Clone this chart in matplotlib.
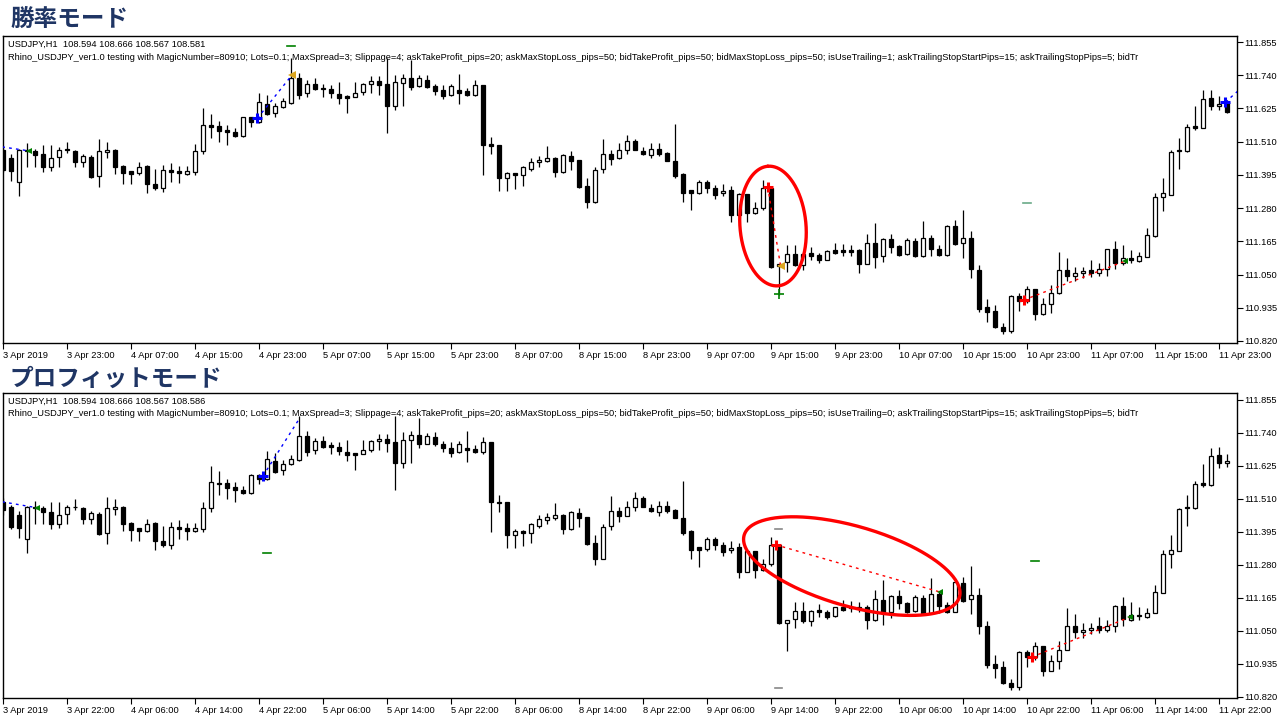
import numpy as np
import matplotlib
matplotlib.use("Agg")
import matplotlib.pyplot as plt

plt.rcParams['font.family'] = ['Liberation Sans', 'DejaVu Sans']

# ---------------- data (USDJPY H1) ----------------
opens = [111.483, 111.455, 111.371, 111.478, 111.477, 111.466, 111.423, 111.458, 111.483, 111.477,
         111.440, 111.458, 111.392, 111.476, 111.483, 111.425, 111.408, 111.400, 111.425, 111.365,
         111.348, 111.411, 111.408, 111.397, 111.406, 111.477, 111.567, 111.564, 111.550, 111.542,
         111.529, 111.594, 111.579, 111.642, 111.611, 111.631, 111.644, 111.729, 111.680, 111.711,
         111.697, 111.691, 111.674, 111.669, 111.665, 111.682, 111.711, 111.719, 111.709, 111.634,
         111.714, 111.732, 111.703, 111.725, 111.702, 111.688, 111.673, 111.688, 111.685, 111.673,
         111.708, 111.501, 111.498, 111.386, 111.400, 111.393, 111.417, 111.438, 111.444, 111.455,
         111.406, 111.461, 111.446, 111.356, 111.302, 111.414, 111.469, 111.452, 111.483, 111.512,
         111.478, 111.463, 111.486, 111.471, 111.444, 111.398, 111.342, 111.334, 111.372, 111.351,
         111.331, 111.342, 111.256, 111.328, 111.264, 111.282, 111.348, 111.079, 111.092, 111.120,
         111.083, 111.123, 111.117, 111.102, 111.135, 111.135, 111.135, 111.135, 111.088, 111.158,
         111.115, 111.173, 111.148, 111.120, 111.166, 111.114, 111.178, 111.140, 111.117, 111.218,
         111.160, 111.175, 111.066, 110.936, 110.924, 110.870, 110.856, 110.977, 110.959, 110.999,
         110.912, 110.947, 110.985, 111.066, 111.046, 111.054, 111.066, 111.054, 111.069, 111.137,
         111.089, 111.107, 111.098, 111.112, 111.184, 111.317, 111.327, 111.483, 111.478, 111.564,
         111.558, 111.663, 111.634, 111.648]
highs = [111.490, 111.469, 111.486, 111.504, 111.486, 111.498, 111.498, 111.490, 111.510, 111.483,
         111.469, 111.463, 111.518, 111.510, 111.485, 111.429, 111.408, 111.440, 111.429, 111.417,
         111.429, 111.437, 111.425, 111.425, 111.501, 111.625, 111.607, 111.581, 111.569, 111.556,
         111.596, 111.596, 111.677, 111.671, 111.644, 111.663, 111.799, 111.748, 111.723, 111.729,
         111.709, 111.708, 111.715, 111.671, 111.715, 111.714, 111.737, 111.737, 111.799, 111.742,
         111.746, 111.792, 111.740, 111.742, 111.711, 111.708, 111.711, 111.746, 111.697, 111.725,
         111.708, 111.525, 111.500, 111.406, 111.402, 111.425, 111.455, 111.461, 111.495, 111.458,
         111.467, 111.478, 111.448, 111.383, 111.421, 111.521, 111.481, 111.504, 111.533, 111.521,
         111.492, 111.504, 111.504, 111.475, 111.573, 111.402, 111.342, 111.377, 111.377, 111.359,
         111.363, 111.356, 111.333, 111.328, 111.302, 111.377, 111.354, 111.088, 111.152, 111.152,
         111.123, 111.144, 111.123, 111.135, 111.158, 111.155, 111.152, 111.140, 111.192, 111.227,
         111.175, 111.192, 111.152, 111.175, 111.175, 111.235, 111.187, 111.152, 111.221, 111.238,
         111.275, 111.200, 111.083, 110.965, 110.944, 110.881, 110.979, 110.985, 111.010, 110.999,
         110.968, 111.014, 111.129, 111.108, 111.077, 111.077, 111.100, 111.089, 111.140, 111.167,
         111.152, 111.135, 111.129, 111.210, 111.331, 111.386, 111.480, 111.523, 111.573, 111.633,
         111.688, 111.690, 111.667, 111.656]
lows = [111.406, 111.375, 111.323, 111.423, 111.423, 111.406, 111.409, 111.423, 111.471, 111.423,
        111.423, 111.386, 111.352, 111.455, 111.397, 111.365, 111.362, 111.394, 111.331, 111.342,
        111.337, 111.371, 111.368, 111.394, 111.394, 111.466, 111.523, 111.510, 111.498, 111.527,
        111.527, 111.561, 111.575, 111.602, 111.594, 111.628, 111.642, 111.659, 111.665, 111.688,
        111.665, 111.663, 111.642, 111.610, 111.665, 111.673, 111.679, 111.673, 111.541, 111.619,
        111.634, 111.688, 111.700, 111.696, 111.673, 111.657, 111.669, 111.639, 111.669, 111.667,
        111.394, 111.466, 111.340, 111.340, 111.345, 111.357, 111.408, 111.423, 111.438, 111.388,
        111.403, 111.411, 111.348, 111.279, 111.299, 111.402, 111.429, 111.450, 111.469, 111.481,
        111.463, 111.452, 111.460, 111.444, 111.386, 111.302, 111.273, 111.328, 111.333, 111.311,
        111.323, 111.233, 111.256, 111.233, 111.259, 111.275, 111.074, 110.979, 111.060, 111.079,
        111.066, 111.100, 111.091, 111.100, 111.121, 111.115, 111.115, 111.056, 111.086, 111.071,
        111.094, 111.126, 111.114, 111.117, 111.112, 111.112, 111.114, 111.114, 111.115, 111.152,
        111.108, 111.039, 110.921, 110.887, 110.864, 110.843, 110.846, 110.925, 110.950, 110.893,
        110.910, 110.916, 110.982, 111.027, 111.027, 111.039, 111.042, 111.046, 111.046, 111.068,
        111.083, 111.089, 111.094, 111.112, 111.181, 111.271, 111.327, 111.417, 111.475, 111.550,
        111.556, 111.619, 111.621, 111.608]
closes = [111.411, 111.409, 111.481, 111.483, 111.465, 111.423, 111.455, 111.481, 111.482, 111.440,
          111.460, 111.388, 111.477, 111.483, 111.423, 111.403, 111.399, 111.421, 111.362, 111.350,
          111.411, 111.406, 111.400, 111.408, 111.477, 111.569, 111.561, 111.548, 111.542, 111.530,
          111.594, 111.579, 111.648, 111.605, 111.633, 111.650, 111.729, 111.673, 111.711, 111.692,
          111.691, 111.677, 111.663, 111.663, 111.680, 111.711, 111.719, 111.706, 111.634, 111.715,
          111.732, 111.700, 111.729, 111.700, 111.686, 111.669, 111.702, 111.680, 111.673, 111.708,
          111.500, 111.496, 111.386, 111.400, 111.393, 111.421, 111.439, 111.446, 111.455, 111.406,
          111.463, 111.444, 111.354, 111.302, 111.411, 111.469, 111.450, 111.481, 111.512, 111.483,
          111.469, 111.486, 111.469, 111.444, 111.392, 111.333, 111.331, 111.371, 111.350, 111.326,
          111.339, 111.256, 111.328, 111.264, 111.282, 111.348, 111.077, 111.088, 111.120, 111.083,
          111.120, 111.115, 111.100, 111.132, 111.123, 111.129, 111.129, 111.088, 111.160, 111.112,
          111.173, 111.146, 111.117, 111.169, 111.114, 111.178, 111.138, 111.117, 111.219, 111.155,
          111.175, 111.068, 110.931, 110.921, 110.870, 110.856, 110.977, 110.959, 110.999, 110.912,
          110.947, 110.985, 111.066, 111.046, 111.054, 111.062, 111.054, 111.069, 111.137, 111.091,
          111.106, 111.102, 111.114, 111.187, 111.317, 111.331, 111.475, 111.478, 111.561, 111.558,
          111.659, 111.634, 111.642, 111.613]

# the lower chart starts one hour earlier: one extra bar in front
pre_bar = [111.500, 111.512, 111.455, 111.470]   # O, H, L, C

top_xlabels = ['3 Apr 2019', '3 Apr 23:00', '4 Apr 07:00', '4 Apr 15:00', '4 Apr 23:00',
               '5 Apr 07:00', '5 Apr 15:00', '5 Apr 23:00', '8 Apr 07:00', '8 Apr 15:00',
               '8 Apr 23:00', '9 Apr 07:00', '9 Apr 15:00', '9 Apr 23:00', '10 Apr 07:00',
               '10 Apr 15:00', '10 Apr 23:00', '11 Apr 07:00', '11 Apr 15:00', '11 Apr 23:00']
bot_xlabels = ['3 Apr 2019', '3 Apr 22:00', '4 Apr 06:00', '4 Apr 14:00', '4 Apr 22:00',
               '5 Apr 06:00', '5 Apr 14:00', '5 Apr 22:00', '8 Apr 06:00', '8 Apr 14:00',
               '8 Apr 22:00', '9 Apr 06:00', '9 Apr 14:00', '9 Apr 22:00', '10 Apr 06:00',
               '10 Apr 14:00', '10 Apr 22:00', '11 Apr 06:00', '11 Apr 14:00', '11 Apr 22:00']
price_ticks = [111.855, 111.740, 111.625, 111.510, 111.395, 111.280, 111.165, 111.050, 110.935, 110.820]

# trades: (bar index, price)
top_trades = [
    dict(entry=(-0.1, 111.492), exit=(3.3, 111.478), color='#0000ff', entry_mark=False, exit_mark='green'),
    dict(entry=(31.8, 111.591), exit=(36.1, 111.740), color='#0000ff', entry_mark=True, exit_mark='gold'),
    dict(entry=(95.6, 111.353), exit=(97.2, 111.079), color='#ff0000', entry_mark=True, exit_mark='gold'),
    dict(entry=(127.6, 110.962), exit=(140.3, 111.097), color='#ff0000', entry_mark=True, exit_mark='green'),
    dict(entry=(152.8, 111.647), exit=(154.3, 111.684), color='#0000ff', entry_mark=True, exit_mark=None),
]
top_dashes = [(36.0, 111.840, '#008000'), (128.0, 111.297, '#6aaa88')]
top_plus_green = [(97.0, 110.982)]

bot_trades = [
    dict(entry=(-0.1, 111.500), exit=(4.3, 111.479), color='#0000ff', entry_mark=False, exit_mark='green'),
    dict(entry=(32.5, 111.590), exit=(37.1, 111.792), color='#0000ff', entry_mark=True, exit_mark=None),
    dict(entry=(96.6, 111.350), exit=(117.1, 111.186), color='#ff0000', entry_mark=True, exit_mark='green'),
    dict(entry=(128.6, 110.959), exit=(140.9, 111.099), color='#ff0000', entry_mark=True, exit_mark='green'),
]
bot_dashes = [(33.0, 111.322, '#008000'), (96.9, 111.405, '#888888'), (96.9, 110.851, '#888888'),
              (129.0, 111.294, '#008000')]
bot_plus_green = []

# ---------------- drawing ----------------
fig = plt.figure(figsize=(12.8, 7.2), dpi=100)
fig.patch.set_facecolor('white')

W, H = 1280.0, 720.0
SMALL = 6.7


def px_axes(x0, y0, x1, y1):
    return fig.add_axes([x0 / W, 1 - y1 / H, (x1 - x0) / W, (y1 - y0) / H])


def draw_candles(ax, o, h, l, c):
    o, h, l, c = map(np.asarray, (o, h, l, c))
    x = np.arange(len(o))
    ax.vlines(x, l, h, color='black', lw=0.9, zorder=2)
    up = c >= o
    bottoms = np.minimum(o, c)
    heights = np.maximum(np.abs(c - o), 0.0015)
    ax.bar(x[up], heights[up], bottom=bottoms[up], width=0.62, facecolor='white',
           edgecolor='black', lw=0.9, zorder=3)
    ax.bar(x[~up], heights[~up], bottom=bottoms[~up], width=0.62, facecolor='black',
           edgecolor='black', lw=0.9, zorder=3)


def style_axes(ax, xlabels, ylim):
    ax.set_xlim(-0.06, 154.25)
    ax.set_ylim(*ylim)
    for s in ax.spines.values():
        s.set_color('black')
        s.set_linewidth(1.0)
    ax.yaxis.tick_right()
    ax.set_yticks(price_ticks)
    ax.set_yticklabels(['%.3f' % v for v in price_ticks], fontsize=SMALL)
    ax.set_xticks(np.arange(len(xlabels)) * 8)
    ax.set_xticklabels(xlabels, fontsize=SMALL, ha='left')
    ax.tick_params(axis='both', direction='out', length=4, width=0.8, color='black')
    ax.tick_params(axis='x', pad=1.5)
    ax.tick_params(axis='y', pad=1.5)


def draw_trades(ax, trades, dashes, plus_green):
    for t in trades:
        (x0, y0), (x1, y1) = t['entry'], t['exit']
        ax.plot([x0, x1], [y0, y1], color=t['color'], lw=1.0, ls=(0, (2, 3)), zorder=5)
        if t['entry_mark']:
            ax.plot([x0], [y0], marker='+', color=t['color'], ms=7, mew=2.2, zorder=6)
        if t['exit_mark'] == 'green':
            ax.plot([x1], [y1], marker='<', color='#008000', ms=5, mew=0, zorder=6)
        elif t['exit_mark'] == 'gold':
            ax.plot([x1], [y1], marker='<', color='#daa520', ms=6, mew=0, zorder=6)
    for (x, y, col) in dashes:
        ax.plot([x - 0.45, x + 0.45], [y, y], color=col, lw=1.2, zorder=5)
    for (x, y) in plus_green:
        ax.plot([x], [y], marker='+', color='#008000', ms=7, mew=1.2, zorder=6)


def pixel_ellipse(ax, cx, cy, a_px, b_px, angle_deg):
    c = ax.transData.transform((cx, cy))
    t = np.linspace(0, 2 * np.pi, 300)
    th = np.deg2rad(angle_deg)
    xs, ys = a_px * np.cos(t), b_px * np.sin(t)
    pts = np.column_stack([c[0] + xs * np.cos(th) - ys * np.sin(th),
                           c[1] + xs * np.sin(th) + ys * np.cos(th)])
    d = ax.transData.inverted().transform(pts)
    ax.plot(d[:, 0], d[:, 1], color='#ff0000', lw=2.4, zorder=7, solid_capstyle='round')


title_kw = dict(family=['Noto Sans CJK JP', 'DejaVu Sans'], fontweight='bold',
                fontsize=17, color='#1f3564', va='center', ha='left')
fig.text(10 / W, 1 - 18.5 / H, '勝率モード', **title_kw)
fig.text(10 / W, 1 - 378.5 / H, 'プロフィットモード', **title_kw)

params = ('Rhino_USDJPY_ver1.0 testing with MagicNumber=80910; Lots=0.1; MaxSpread=3; Slippage=4; '
          'askTakeProfit_pips=20; askMaxStopLoss_pips=50; bidTakeProfit_pips=50; bidMaxStopLoss_pips=50; '
          'isUseTrailing={}; askTrailingStopStartPips=15; askTrailingStopPips=5; bidTr')

# top chart
ax1 = px_axes(2.5, 36, 1237, 343)
draw_candles(ax1, opens, highs, lows, closes)
style_axes(ax1, top_xlabels, (110.813, 111.876))
draw_trades(ax1, top_trades, top_dashes, top_plus_green)
ax1.text(5.5 / 1234.5, 1 - 8 / 307, 'USDJPY,H1  108.594 108.666 108.567 108.581',
         transform=ax1.transAxes, fontsize=SMALL, va='center', ha='left', zorder=8)
ax1.text(5.5 / 1234.5, 1 - 21 / 307, params.format(1),
         transform=ax1.transAxes, fontsize=SMALL, va='center', ha='left', zorder=8)

# bottom chart
ax2 = px_axes(2.5, 393, 1237, 698)
b_o = [pre_bar[0]] + opens[:-1]
b_h = [pre_bar[1]] + highs[:-1]
b_l = [pre_bar[2]] + lows[:-1]
b_c = [pre_bar[3]] + closes[:-1]
draw_candles(ax2, b_o, b_h, b_l, b_c)
style_axes(ax2, bot_xlabels, (110.8165, 111.879))
draw_trades(ax2, bot_trades, bot_dashes, bot_plus_green)
ax2.text(5.5 / 1234.5, 1 - 8 / 305, 'USDJPY,H1  108.594 108.666 108.567 108.586',
         transform=ax2.transAxes, fontsize=SMALL, va='center', ha='left', zorder=8)
ax2.text(5.5 / 1234.5, 1 - 21 / 305, params.format(0),
         transform=ax2.transAxes, fontsize=SMALL, va='center', ha='left', zorder=8)

# highlight ellipses
pixel_ellipse(ax1, 96.25, 111.218, 60, 33, 95)
pixel_ellipse(ax2, 106.1, 111.276, 112, 40, -16)

fig.savefig('out.png', dpi=100, facecolor='white')
